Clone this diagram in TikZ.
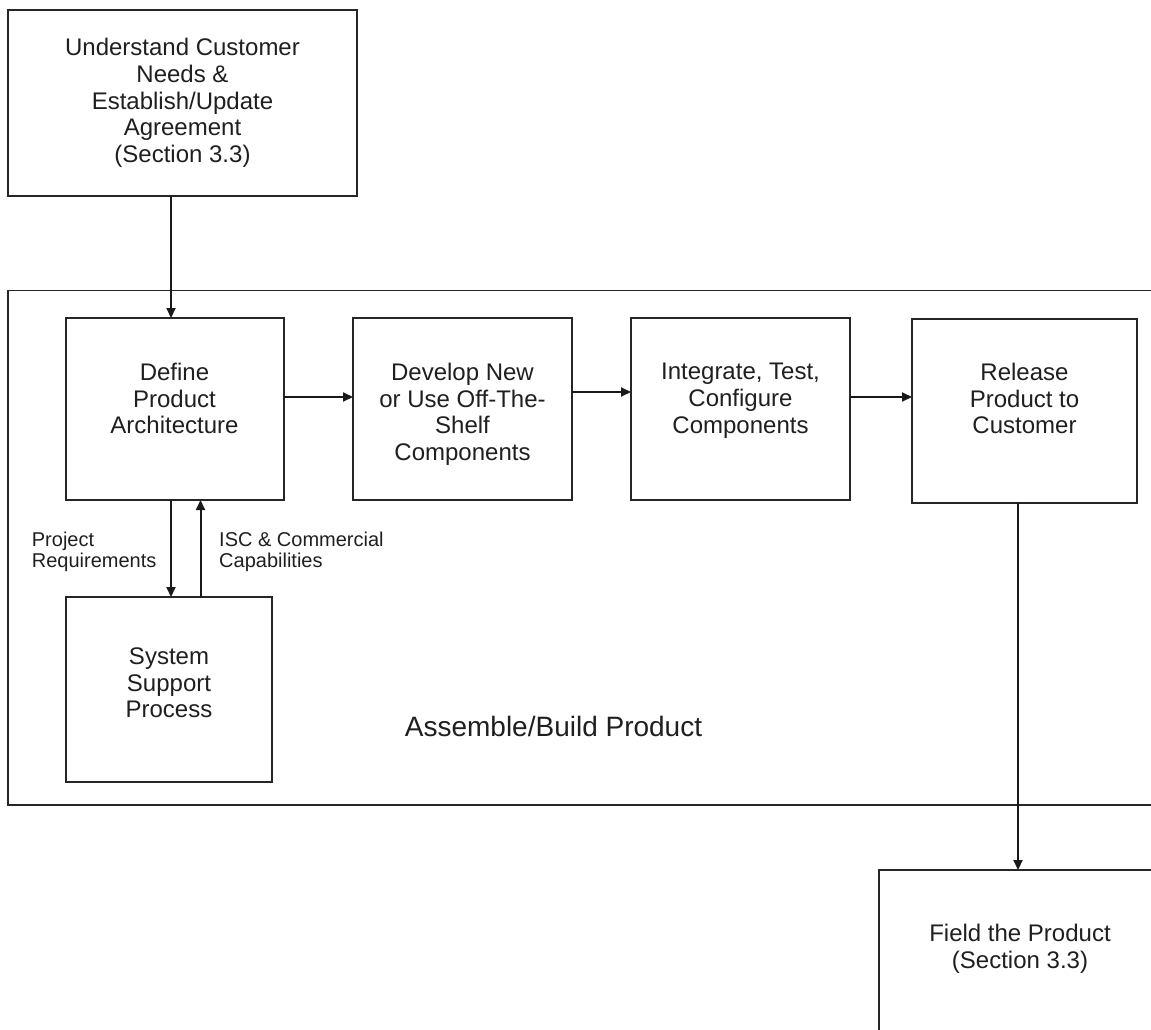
\documentclass[tikz,border=0pt]{standalone}
\usepackage{fontspec}
\setmainfont{Liberation Sans}
\usetikzlibrary{arrows.meta}
\begin{document}
\begin{tikzpicture}[x=1pt,y=-1pt,
  box/.style={draw=black!85, line width=2pt, rectangle, inner sep=0pt, outer sep=0pt},
  boxtext/.style={align=center, inner sep=0pt, text=black!88,
    font=\fontsize{24}{26.7}\selectfont},
  note/.style={align=left, inner sep=0pt, text=black!88,
    font=\fontsize{20}{21.5}\selectfont},
  arr/.style={draw=black!90, line width=2pt, -{Triangle[length=10pt,width=9pt]}},
]
\useasboundingbox (0,0) rectangle (1151,1030);
\clip (0,0) rectangle (1151,1030);

% enclosing process box
\node[box, line width=1.6pt, minimum width=1162pt, minimum height=514.5pt] (assemble) at (589,547.75) {};
\node[inner sep=0pt, anchor=base, text=black!88, font=\fontsize{28}{32}\selectfont] (assemble-t) at (553.5,736) {Assemble/Build Product};

% boxes
\node[box, minimum width=349pt, minimum height=186pt] (need) at (182.5,103) {};
\node[box, minimum width=218pt, minimum height=182pt] (define) at (174.5,409) {};
\node[box, minimum width=219pt, minimum height=182pt] (develop) at (462.5,409) {};
\node[box, minimum width=219pt, minimum height=182pt] (integrate) at (740.5,409) {};
\node[box, minimum width=225pt, minimum height=183.5pt] (release) at (1024.5,410.75) {};
\node[box, minimum width=206pt, minimum height=185pt] (system) at (169,689.5) {};
\node[box, minimum width=278pt, minimum height=220pt] (field) at (1018,980) {};

% box texts
\node[boxtext] (need-t) at (182.5,103) {Understand Customer\\Needs \&\\Establish/Update\\Agreement\\(Section 3.3)};
\node[boxtext, anchor=north] (define-t) at (174.5,363) {Define\\Product\\Architecture};
\node[boxtext, anchor=north] (develop-t) at (462.5,363) {Develop New\\or Use Off-The-\\Shelf\\Components};
\node[boxtext, anchor=north] (integrate-t) at (740.5,363) {Integrate, Test,\\Configure\\Components};
\node[boxtext, anchor=north] (release-t) at (1024.5,363) {Release\\Product to\\Customer};
\node[boxtext] (system-t) at (169,683) {System\\Support\\Process};
\node[boxtext] (field-t) at (1020,949) {Field the Product\\(Section 3.3)};

% connectors
\draw[arr] ([xshift=-3.5pt]define.north |- need.south) -- ([xshift=-3.5pt]define.north);
\draw[arr] ([yshift=12pt]define.east) -- ([yshift=12pt]define.east -| develop.west);
\draw[arr] ([yshift=17pt]develop.east) -- ([yshift=17pt]develop.east -| integrate.west);
\draw[arr] ([yshift=12pt]integrate.east) -- ([yshift=12pt]integrate.east -| release.west);
\draw[arr] ([xshift=-3.5pt]define.south) -- ([xshift=-3.5pt]define.south |- system.north);
\draw[arr] ([xshift=26pt]define.south |- system.north) -- ([xshift=26pt]define.south);
\draw[arr] ([xshift=-6.5pt]release.south) -- ([xshift=-6.5pt]release.south |- field.north);

% connector labels
\node[note, anchor=north west] (req) at (31.7,531.4) {Project\\Requirements};
\node[note, anchor=north west] (cap) at (219,531.4) {ISC \& Commercial\\Capabilities};
\end{tikzpicture}
\end{document}
